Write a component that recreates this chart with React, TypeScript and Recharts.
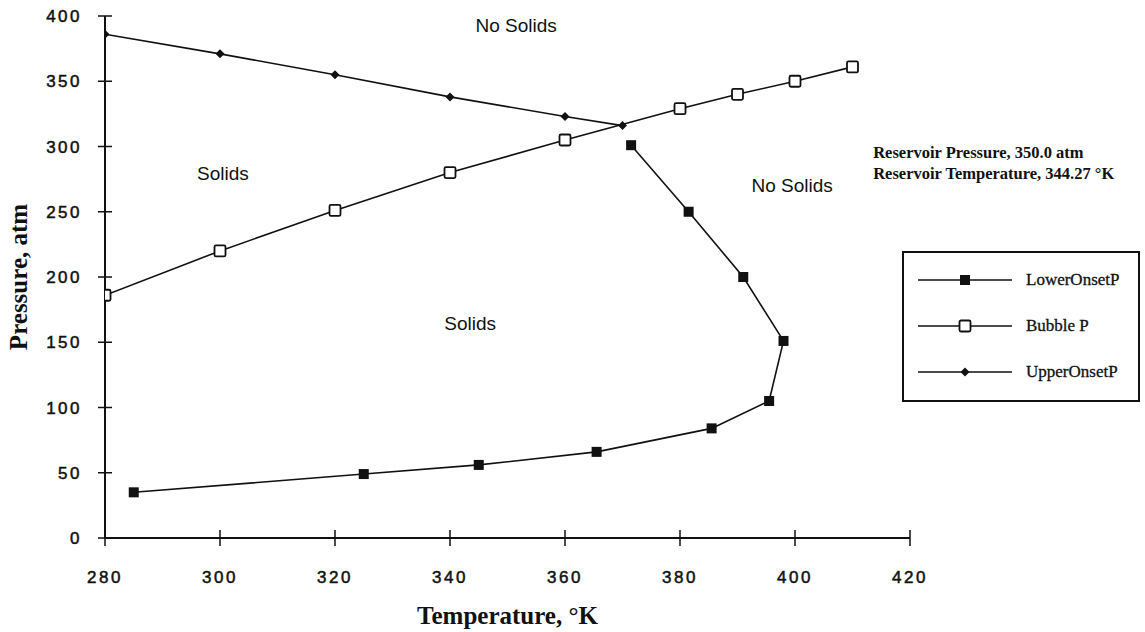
import React from 'react';
import { LineChart, Line, XAxis, YAxis, Legend, ReferenceDot } from 'recharts';

// Phase envelope: temperature (°K) vs pressure (atm)
const lowerOnsetT = [285, 325, 345, 365.5, 385.5, 395.5, 398, 391, 381.5, 371.5];
const lowerOnsetP = [35, 49, 56, 66, 84, 105, 151, 200, 250, 301];

const bubbleT = [280, 300, 320, 340, 360, 380, 390, 400, 410];
const bubbleP = [186, 220, 251, 280, 305, 329, 340, 350, 361];

const upperOnsetT = [280, 300, 320, 340, 360, 370];
const upperOnsetP = [386, 371, 355, 338, 323, 316];

const xTicks = [280, 300, 320, 340, 360, 380, 400, 420];
const yTicks = [0, 50, 100, 150, 200, 250, 300, 350, 400];

const seriesNames = ['LowerOnsetP', 'Bubble P', 'UpperOnsetP'];

const toPoints = (xs: number[], ys: number[]) => xs.map((x, i) => ({ x, y: ys[i] }));

const lowerData = toPoints(lowerOnsetT, lowerOnsetP);
const bubbleData = toPoints(bubbleT, bubbleP);
const upperData = toPoints(upperOnsetT, upperOnsetP);

const INK = '#111';
const SERIF = '"Liberation Serif", "Times New Roman", serif';
const SANS = '"Liberation Sans", Arial, sans-serif';

const FilledSquare = (p: any) =>
  p.cx == null ? <g key={p.index} /> : (
    <rect key={p.index} x={p.cx - 5} y={p.cy - 5} width={10} height={10} fill={INK} />
  );
const OpenSquare = (p: any) =>
  p.cx == null ? <g key={p.index} /> : (
    <rect key={p.index} x={p.cx - 5.5} y={p.cy - 5.5} width={11} height={11} rx={1.5}
      fill="#fff" stroke={INK} strokeWidth={1.8} />
  );
const Diamond = (p: any) =>
  p.cx == null ? <g key={p.index} /> : (
    <path key={p.index} d={`M${p.cx},${p.cy - 4.5} L${p.cx + 4.5},${p.cy} L${p.cx},${p.cy + 4.5} L${p.cx - 4.5},${p.cy} Z`} fill={INK} />
  );

const XTick = (props: any) => {
  const { x, y, payload } = props;
  return (
    <g>
      <line x1={x} x2={x} y1={y - 8} y2={y + 8} stroke={INK} strokeWidth={1.5} />
      <text x={x} y={y + 45} textAnchor="middle" fontFamily={SANS} fontSize={17}
        letterSpacing={2.5} fill={INK} stroke={INK} strokeWidth={0.5}>{payload.value}</text>
    </g>
  );
};

const YTick = (props: any) => {
  const { x, y, payload } = props;
  return (
    <g>
      <line x1={x - 7} x2={x + 7} y1={y} y2={y} stroke={INK} strokeWidth={1.5} />
      <text x={x - 23} y={y + 6} textAnchor="end" fontFamily={SANS} fontSize={17}
        letterSpacing={2.5} fill={INK} stroke={INK} strokeWidth={0.5}>{payload.value}</text>
    </g>
  );
};

const legendIcons = [
  (cx: number, cy: number) => <rect x={cx - 5} y={cy - 5} width={10} height={10} fill={INK} />,
  (cx: number, cy: number) => <rect x={cx - 5.5} y={cy - 5.5} width={11} height={11} rx={1.5} fill="#fff" stroke={INK} strokeWidth={1.8} />,
  (cx: number, cy: number) => <path d={`M${cx},${cy - 4.5} L${cx + 4.5},${cy} L${cx},${cy + 4.5} L${cx - 4.5},${cy} Z`} fill={INK} />,
];

const LegendBox = () => (
  <div style={{ width: 234, height: 147, border: `2px solid ${INK}`, background: '#fff', boxSizing: 'content-box' }}>
    {seriesNames.map((name, i) => (
      <div key={name} style={{ display: 'flex', alignItems: 'center', height: 46, marginTop: i === 0 ? 4 : 0 }}>
        <svg width={112} height={20} style={{ marginLeft: 10 }}>
          <line x1={4} x2={98} y1={10} y2={10} stroke={INK} strokeWidth={1.6} />
          {legendIcons[i](51, 10)}
        </svg>
        <span style={{ fontFamily: SERIF, fontSize: 17, color: INK, WebkitTextStroke: '0.3px #111' }}>{name}</span>
      </div>
    ))}
  </div>
);

const textLabel = (text: string, size: number, anchor: 'middle' | 'start' = 'middle', family = SANS, weight: any = 'normal') =>
  (props: any) => {
    const vb = props.viewBox || {};
    const cx = vb.x + (vb.width || 0) / 2;
    const cy = vb.y + (vb.height || 0) / 2;
    return (
      <text x={cx} y={cy} textAnchor={anchor} dominantBaseline="central" fontFamily={family}
        fontSize={size} fontWeight={weight} fill={INK}>{text}</text>
    );
  };

export default function App() {
  return (
    <div style={{ position: 'absolute', left: 0, top: 0, width: 1145, height: 632, background: '#fff' }}>
      <LineChart width={1145} height={632} margin={{ top: 16, right: 235, bottom: 0, left: 0 }}>
        <XAxis type="number" dataKey="x" domain={[280, 420]} ticks={xTicks} interval={0}
          allowDataOverflow height={94} tickSize={0} tickMargin={0} tick={<XTick />}
          axisLine={{ stroke: INK, strokeWidth: 2 }}
          label={{ value: 'Temperature, °K', position: 'insideBottom', offset: 8,
            style: { fontFamily: SERIF, fontSize: 25, fontWeight: 'bold', fill: INK } }} />
        <YAxis type="number" dataKey="y" domain={[0, 400]} ticks={yTicks} interval={0}
          allowDataOverflow width={105} tickSize={0} tickMargin={0} tick={<YTick />}
          axisLine={{ stroke: INK, strokeWidth: 2 }}
          label={{ value: 'Pressure, atm', angle: -90, position: 'insideLeft', offset: 18,
            style: { fontFamily: SERIF, fontSize: 25, fontWeight: 'bold', fill: INK, textAnchor: 'middle' } }} />
        <Legend content={<LegendBox />} layout="horizontal" verticalAlign="middle" align="center"
          wrapperStyle={{ position: 'absolute', left: 902, top: 251, width: 238, height: 151 }} />

        <Line name={seriesNames[0]} data={lowerData} dataKey="y" stroke={INK} strokeWidth={1.6}
          dot={FilledSquare} activeDot={false} isAnimationActive={false} legendType="none" />
        <Line name={seriesNames[1]} data={bubbleData} dataKey="y" stroke={INK} strokeWidth={1.6}
          dot={OpenSquare} activeDot={false} isAnimationActive={false} legendType="none" />
        <Line name={seriesNames[2]} data={upperData} dataKey="y" stroke={INK} strokeWidth={1.6}
          dot={Diamond} activeDot={false} isAnimationActive={false} legendType="none" />

        <ReferenceDot x={351.5} y={393} r={0} fill="none" stroke="none" label={textLabel('No Solids', 19)} />
        <ReferenceDot x={300.5} y={279} r={0} fill="none" stroke="none" label={textLabel('Solids', 19)} />
        <ReferenceDot x={343.5} y={164} r={0} fill="none" stroke="none" label={textLabel('Solids', 19)} />
        <ReferenceDot x={399.5} y={270} r={0} fill="none" stroke="none" label={textLabel('No Solids', 19)} />
        <ReferenceDot x={413.6} y={295.5} r={0} fill="none" stroke="none"
          label={textLabel('Reservoir Pressure, 350.0 atm', 16.5, 'start', SERIF, 'bold')} />
        <ReferenceDot x={413.6} y={279} r={0} fill="none" stroke="none"
          label={textLabel('Reservoir Temperature, 344.27 °K', 16.5, 'start', SERIF, 'bold')} />
      </LineChart>
    </div>
  );
}
